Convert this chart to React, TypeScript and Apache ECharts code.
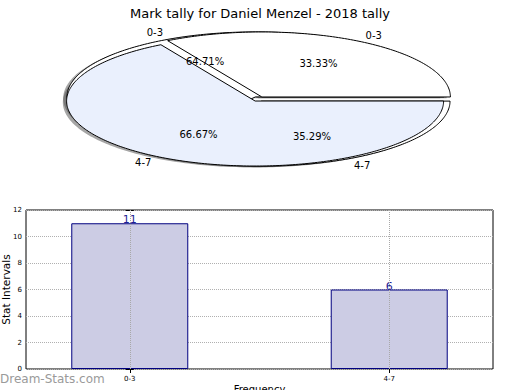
import React, { useEffect, useRef } from 'react';
import * as echarts from 'echarts';

const titleText = 'Mark tally for Daniel Menzel - 2018 tally';
const watermarkText = 'Dream-Stats.com';

// Pie data (front pie drawn on top, back pie behind it)
const pieCategories = ['0-3', '4-7'];
const frontPieValues = [33.33, 66.67];
const backPieValues = [11, 6];
const frontPieColors = ['#ffffff', '#eaf0fd'];
const backPieColors = ['#ffffff', '#ffffff'];

// Bar data
const barCategories = ['0-3', '4-7'];
const barValues = [11, 6];
const yAxisName = 'Stat Intervals';
const xAxisName = 'Frequency';

const FONT = 'DejaVu Sans';
const PIE = { cx: 258.5, cy: 99, rx: 188.5, ry: 65, explode: 0.036, labelDist: 1.1, pctDist: 0.6, shadow: 0.02 };

function makePieRenderer(values: number[], colors: string[], baseZ: number) {
  const total = values.reduce((a, b) => a + b, 0);
  return (params: any, api: any) => {
    const i = params.dataIndex;
    const v = api.value(0);
    let before = 0;
    for (let k = 0; k < i; k++) before += values[k];
    const a1 = (before / total) * 360;
    const a2 = ((before + v) / total) * 360;
    const mid = ((a1 + a2) / 2) * Math.PI / 180;
    const ox = PIE.explode * PIE.rx * Math.cos(mid);
    const oy = -PIE.explode * PIE.ry * Math.sin(mid);
    const cx = PIE.cx + ox;
    const cy = PIE.cy + oy;
    const pts: number[][] = [[cx, cy]];
    const steps = Math.max(4, Math.ceil(a2 - a1));
    for (let s = 0; s <= steps; s++) {
      const t = (a1 + ((a2 - a1) * s) / steps) * Math.PI / 180;
      pts.push([cx + PIE.rx * Math.cos(t), cy - PIE.ry * Math.sin(t)]);
    }
    const sdx = -PIE.shadow * PIE.rx;
    const sdy = PIE.shadow * PIE.ry;
    const shadowPts = pts.map((p) => [p[0] + sdx, p[1] + sdy]);
    const lx = cx + PIE.labelDist * PIE.rx * Math.cos(mid);
    const ly = cy - PIE.labelDist * PIE.ry * Math.sin(mid);
    const px = cx + PIE.pctDist * PIE.rx * Math.cos(mid);
    const py = cy - PIE.pctDist * PIE.ry * Math.sin(mid);
    const pct = ((v / total) * 100).toFixed(2) + '%';
    return {
      type: 'group',
      children: [
        {
          type: 'polygon',
          z2: 0,
          shape: { points: shadowPts },
          style: { fill: 'rgba(77,77,77,0.5)', stroke: 'none' },
        },
        {
          type: 'polygon',
          z2: baseZ,
          shape: { points: pts },
          style: { fill: colors[i], stroke: '#000', lineWidth: 1 },
        },
        {
          type: 'text',
          z2: 20,
          x: lx,
          y: ly,
          style: {
            text: pieCategories[i],
            fontSize: 10,
            fontFamily: FONT,
            fill: '#000',
            align: Math.cos(mid) > 0 ? 'left' : 'right',
            verticalAlign: 'middle',
          },
        },
        {
          type: 'text',
          z2: 20,
          x: px,
          y: py,
          style: {
            text: pct,
            fontSize: 10,
            fontFamily: FONT,
            fill: '#000',
            align: 'center',
            verticalAlign: 'middle',
          },
        },
      ],
    };
  };
}

export default function App() {
  const ref = useRef<HTMLDivElement>(null);
  useEffect(() => {
    if (!ref.current) return;
    const chart = echarts.init(ref.current, undefined, { renderer: 'svg' });
    const tickIdx = barCategories.map((_, i) => i);
    chart.setOption({
      animation: false,
      backgroundColor: '#ffffff',
      textStyle: { fontFamily: FONT },
      title: {
        text: titleText,
        left: 'center',
        top: 2,
        textStyle: { fontSize: 13, fontWeight: 'normal', color: '#000', fontFamily: FONT },
      },
      graphic: [
        {
          type: 'text',
          left: 0,
          top: 373,
          style: { text: watermarkText, fontSize: 12, fontFamily: FONT, fill: '#9a9a9a', fontWeight: 'normal' },
        },
      ],
      grid: {
        left: 26,
        right: 27,
        top: 210,
        bottom: 21,
        containLabel: false,
        outerBoundsMode: 'none',
        show: true,
        borderColor: '#000',
        borderWidth: 1,
        backgroundColor: 'transparent',
      },
      xAxis: [
        {
          type: 'value',
          min: -0.4,
          max: 1.4,
          position: 'bottom',
          axisLine: { show: false },
          axisTick: { show: true, inside: true, length: 4, customValues: tickIdx, lineStyle: { color: '#000' } },
          axisLabel: {
            customValues: tickIdx,
            formatter: (v: number) => barCategories[Math.round(v)] ?? '',
            fontSize: 7,
            color: '#000',
            margin: 6,
            fontFamily: FONT,
          },
          splitLine: { show: false },
          name: xAxisName,
          nameLocation: 'middle',
          nameGap: 15,
          nameMoveOverlap: false,
          nameTextStyle: { fontSize: 10, color: '#000', fontFamily: FONT },
        },
        {
          type: 'value',
          min: -0.4,
          max: 1.4,
          position: 'top',
          axisLine: { show: false },
          axisTick: { show: true, inside: true, length: 4, customValues: tickIdx, lineStyle: { color: '#000' } },
          axisLabel: { show: false },
          splitLine: { show: false },
        },
      ],
      yAxis: [
        {
          type: 'value',
          min: 0,
          max: 12,
          interval: 2,
          axisLine: { show: false },
          axisTick: { show: true, inside: true, length: 4, lineStyle: { color: '#000' } },
          axisLabel: { fontSize: 7, color: '#000', margin: 4, fontFamily: FONT },
          splitLine: { show: true, lineStyle: { type: 'dotted', color: '#b0b0b0', width: 1 } },
          name: yAxisName,
          nameLocation: 'middle',
          nameGap: 15,
          nameMoveOverlap: false,
          nameRotate: 90,
          nameTextStyle: { fontSize: 10.5, color: '#000', fontFamily: FONT },
        },
        {
          type: 'value',
          min: 0,
          max: 12,
          interval: 2,
          position: 'right',
          axisLine: { show: false },
          axisTick: { show: true, inside: true, length: 4, lineStyle: { color: '#000' } },
          axisLabel: { show: false },
          splitLine: { show: false },
        },
      ],
      series: [
        {
          type: 'custom',
          name: 'back',
          coordinateSystem: 'none',
          data: backPieValues,
          renderItem: makePieRenderer(backPieValues, backPieColors, 1),
        },
        {
          type: 'custom',
          name: 'front',
          coordinateSystem: 'none',
          data: frontPieValues,
          renderItem: makePieRenderer(frontPieValues, frontPieColors, 2),
        },
        {
          type: 'bar',
          xAxisIndex: 0,
          yAxisIndex: 0,
          data: barValues.map((v, i) => [i, v]),
          barWidth: 117,
          itemStyle: { color: '#cccce4', borderColor: '#000080', borderWidth: 1 },
          label: { show: true, position: 'top', distance: -2, fontSize: 11, color: '#1f1f96', fontFamily: FONT },
          markLine: {
            silent: true,
            symbol: 'none',
            label: { show: false },
            lineStyle: { type: 'dotted', color: '#a8a8a8', width: 1 },
            data: tickIdx.map((i) => ({ xAxis: i })),
          },
        },
      ],
    });
    return () => chart.dispose();
  }, []);
  return <div ref={ref} style={{ position: 'fixed', left: 0, top: 0, width: 520, height: 390 }} />;
}
